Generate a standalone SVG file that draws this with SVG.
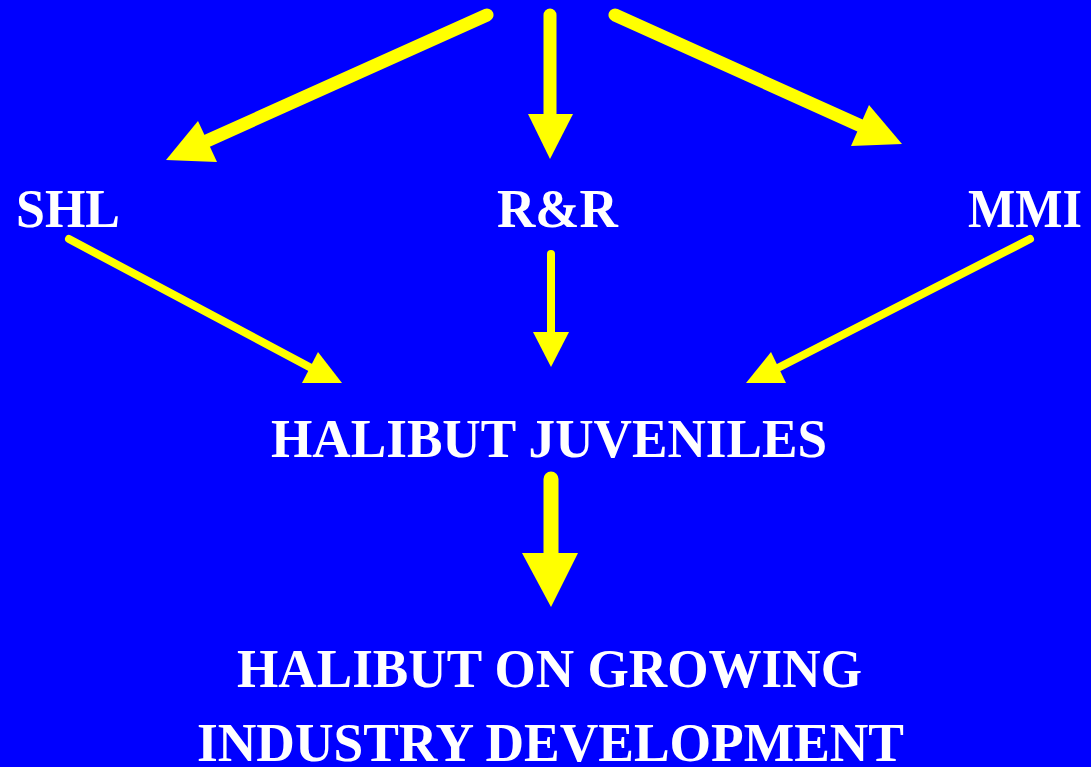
<svg xmlns="http://www.w3.org/2000/svg" width="1091" height="767" viewBox="0 0 1091 767">
<style>
.lbl{font-family:"Liberation Serif","Times New Roman",serif;font-weight:bold;font-size:55px;fill:#FFFFFF}
.thick{stroke:#FFFF00;stroke-width:13;stroke-linecap:round;fill:none}
.thin{stroke:#FFFF00;stroke-width:8;stroke-linecap:round;fill:none}
.wide{stroke:#FFFF00;stroke-width:15;stroke-linecap:round;fill:none}
.head{fill:#FFFF00;stroke:none}
</style>
<rect x="0" y="0" width="1091" height="767" fill="#0000FF"/>
<g id="connectors">
  <line class="thick" x1="487" y1="15" x2="200" y2="144"/>
  <polygon class="head" points="166,160 198,121 217,162"/>
  <line class="thick" x1="550" y1="15" x2="550" y2="116"/>
  <polygon class="head" points="528,114 573,114 550,159"/>
  <line class="thick" x1="615" y1="15" x2="870" y2="130"/>
  <polygon class="head" points="869,105 902,144 851,146"/>
  <line class="thin" x1="69" y1="239" x2="315" y2="370"/>
  <polygon class="head" points="318,352 342,383 302,383"/>
  <line class="thin" x1="551" y1="254" x2="551" y2="334"/>
  <polygon class="head" points="533,332 569,332 551,367"/>
  <line class="thin" x1="1030" y1="239" x2="770" y2="372"/>
  <polygon class="head" points="771,352 746,383 786,383"/>
  <line class="wide" x1="551" y1="479" x2="551" y2="556"/>
  <polygon class="head" points="522,553 578,553 551,607"/>
</g>
<g id="node-shl"><text class="lbl" x="16" y="227" textLength="104" lengthAdjust="spacingAndGlyphs">SHL</text></g>
<g id="node-rr"><text class="lbl" x="497" y="227" textLength="121" lengthAdjust="spacingAndGlyphs">R&amp;R</text></g>
<g id="node-mmi"><text class="lbl" x="968" y="227" textLength="114" lengthAdjust="spacingAndGlyphs">MMI</text></g>
<g id="node-juveniles"><text class="lbl" x="271" y="457" textLength="556" lengthAdjust="spacingAndGlyphs">HALIBUT JUVENILES</text></g>
<g id="node-industry">
  <text class="lbl" x="237" y="687" textLength="625" lengthAdjust="spacingAndGlyphs">HALIBUT ON GROWING</text>
  <text class="lbl" x="197" y="761" textLength="707" lengthAdjust="spacingAndGlyphs">INDUSTRY DEVELOPMENT</text>
</g>
</svg>
